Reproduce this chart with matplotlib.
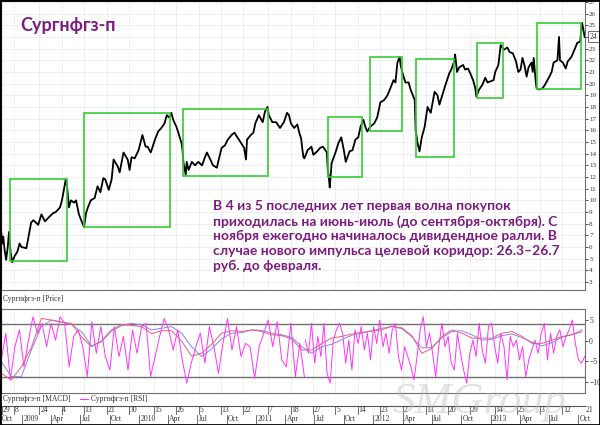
import pandas as pd
import matplotlib.pyplot as plt
import matplotlib.dates as mdates
import matplotlib.transforms as mtransforms
from matplotlib.patches import Rectangle
from matplotlib.lines import Line2D

# цена закрытия (примерно)
price_dates = [
    '2008-10-28', '2008-10-31', '2008-11-03', '2008-11-07', '2008-11-12', '2008-11-17', '2008-11-21',
    '2008-11-26', '2008-12-01', '2008-12-08', '2008-12-17', '2008-12-24', '2008-12-30', '2009-01-14',
    '2009-01-19', '2009-01-29', '2009-02-05', '2009-02-20', '2009-03-02', '2009-03-13', '2009-03-27',
    '2009-04-07', '2009-04-16', '2009-04-29', '2009-05-05', '2009-05-11', '2009-05-17', '2009-05-21',
    '2009-05-27', '2009-06-02', '2009-06-12', '2009-06-18', '2009-06-27', '2009-07-04', '2009-07-13',
    '2009-07-19', '2009-07-25', '2009-08-03', '2009-08-15', '2009-08-24', '2009-09-02', '2009-09-11',
    '2009-09-17', '2009-09-28', '2009-10-07', '2009-10-13', '2009-10-26', '2009-11-01', '2009-11-13',
    '2009-11-26', '2009-12-02', '2009-12-08', '2009-12-18', '2009-12-30', '2010-01-11', '2010-01-21',
    '2010-01-27', '2010-02-06', '2010-02-19', '2010-03-01', '2010-03-11', '2010-03-21', '2010-03-28',
    '2010-04-04', '2010-04-11', '2010-04-17', '2010-04-27', '2010-05-03', '2010-05-13', '2010-05-16',
    '2010-05-19', '2010-05-26', '2010-05-29', '2010-06-04', '2010-06-14', '2010-06-24', '2010-07-04',
    '2010-07-16', '2010-07-25', '2010-07-31', '2010-08-09', '2010-08-19', '2010-08-31', '2010-09-06',
    '2010-09-15', '2010-09-25', '2010-10-04', '2010-10-16', '2010-10-25', '2010-11-03', '2010-11-15',
    '2010-11-24', '2010-11-30', '2010-12-03', '2010-12-15', '2010-12-23', '2010-12-29', '2011-01-09',
    '2011-01-21', '2011-01-28', '2011-02-05', '2011-02-09', '2011-02-20', '2011-03-04', '2011-03-16',
    '2011-03-28', '2011-04-07', '2011-04-13', '2011-04-19', '2011-04-29', '2011-05-09', '2011-05-15',
    '2011-05-21', '2011-05-24', '2011-05-28', '2011-05-31', '2011-06-10', '2011-06-22', '2011-06-28',
    '2011-07-10', '2011-07-19', '2011-07-28', '2011-08-09', '2011-08-12', '2011-08-15', '2011-08-18',
    '2011-08-24', '2011-09-05', '2011-09-14', '2011-09-23', '2011-10-01', '2011-10-07', '2011-10-19',
    '2011-10-28', '2011-11-06', '2011-11-15', '2011-11-22', '2011-12-01', '2011-12-07', '2011-12-13',
    '2011-12-22', '2012-01-04', '2012-01-13', '2012-01-23', '2012-02-04', '2012-02-14', '2012-02-23',
    '2012-03-04', '2012-03-10', '2012-03-16', '2012-03-23', '2012-03-26', '2012-04-01', '2012-04-10',
    '2012-04-20', '2012-04-26', '2012-05-09', '2012-05-12', '2012-05-18', '2012-05-24', '2012-05-31',
    '2012-06-09', '2012-06-18', '2012-06-28', '2012-07-10', '2012-07-19', '2012-07-25', '2012-08-03',
    '2012-08-13', '2012-08-25', '2012-08-31', '2012-09-09', '2012-09-12', '2012-09-18', '2012-09-25',
    '2012-10-07', '2012-10-13', '2012-10-22', '2012-10-29', '2012-11-07', '2012-11-14', '2012-11-17',
    '2012-11-26', '2012-12-06', '2012-12-15', '2012-12-22', '2013-01-10', '2013-01-15', '2013-01-25',
    '2013-02-01', '2013-02-11', '2013-02-22', '2013-03-01', '2013-03-11', '2013-03-21', '2013-03-28',
    '2013-04-04', '2013-04-10', '2013-04-16', '2013-04-23', '2013-04-29', '2013-05-08', '2013-05-12',
    '2013-05-15', '2013-05-21', '2013-05-24', '2013-05-31', '2013-06-12', '2013-06-19', '2013-07-01',
    '2013-07-10', '2013-07-16', '2013-07-28', '2013-08-02', '2013-08-05', '2013-08-14', '2013-08-23',
    '2013-08-29', '2013-09-10', '2013-09-19', '2013-09-28', '2013-10-07', '2013-10-11', '2013-10-13',
    '2013-10-17', '2013-10-21',
]
price_values = [
    7.2, 6.3, 6.9, 5.8, 4.9, 6.0, 7.3,
    5.5, 4.7, 5.2, 5.6, 6.3, 6.0, 5.9,
    6.6, 8.1, 8.3, 7.9, 8.8, 8.2, 8.6,
    8.9, 9.0, 9.4, 10.0, 10.9, 11.8, 11.2,
    9.4, 10.0, 9.8, 10.0, 8.8, 8.3, 7.7,
    8.9, 9.4, 10.0, 10.2, 11.2, 10.7, 11.9,
    11.8, 10.9, 11.8, 13.5, 12.9, 12.4, 14.1,
    13.5, 12.6, 13.7, 13.6, 14.3, 15.6, 14.6,
    14.6, 14.1, 15.2, 15.9, 16.2, 16.6, 17.3,
    17.1, 17.5, 16.9, 16.3, 15.8, 14.9, 14.3,
    13.2, 12.2, 13.3, 12.6, 13.3, 13.0, 13.3,
    13.0, 13.7, 14.1, 13.6, 13.0, 12.8, 13.5,
    14.5, 14.7, 15.2, 15.6, 15.8, 15.4, 14.9,
    14.5, 13.5, 15.2, 15.6, 15.8, 16.6, 17.3,
    16.7, 17.6, 18.0, 17.3, 16.7, 16.7, 16.2,
    16.7, 17.5, 17.3, 16.6, 16.2, 16.5, 15.8,
    15.3, 14.5, 13.7, 13.6, 14.3, 14.6, 13.9,
    14.2, 14.5, 14.6, 14.1, 12.6, 12.0, 11.1,
    13.2, 14.1, 14.9, 15.4, 14.3, 13.3, 14.2,
    14.3, 15.2, 15.4, 16.3, 16.9, 16.3, 15.9,
    16.3, 16.6, 17.1, 18.4, 18.6, 19.0, 19.6,
    20.3, 20.1, 21.8, 22.3, 21.6, 20.9, 20.1,
    20.1, 19.5, 18.6, 16.0, 14.9, 14.2, 15.4,
    16.3, 18.0, 17.5, 19.3, 19.0, 18.2, 19.0,
    19.9, 20.9, 21.2, 21.9, 22.5, 21.0, 21.4,
    21.6, 21.2, 21.3, 20.9, 20.3, 19.6, 18.9,
    19.5, 19.9, 20.5, 20.1, 20.3, 21.0, 21.6,
    23.3, 22.9, 23.1, 22.7, 22.6, 21.9, 21.0,
    21.2, 22.2, 21.6, 20.6, 21.4, 21.8, 21.0,
    22.2, 20.3, 19.6, 19.5, 19.6, 19.9, 20.5,
    21.0, 21.8, 22.0, 24.0, 22.0, 21.8, 21.3,
    21.9, 22.3, 22.9, 23.5, 23.6, 24.8, 25.2,
    24.6, 24.0,
]

# зелёные рамки
box_start = ['2008-11-23', '2009-07-13', '2010-05-19', '2011-08-12', '2011-12-22', '2012-05-12', '2012-11-20', '2013-05-24']
box_end = ['2009-05-21', '2010-04-07', '2011-02-05', '2011-11-28', '2012-03-29', '2012-09-09', '2013-02-07', '2013-10-09']
box_low = [4.8, 7.7, 12.1, 12.0, 15.9, 13.7, 18.8, 19.5]
box_high = [11.8, 17.5, 17.8, 17.1, 22.3, 22.1, 23.5, 25.2]

# нижняя панель
rsi_values_1 = [
    -4.6, 1.9, -9.5, -1.4, 2.7, -6.3, 0.2, 5.9, 1.9, 4.3,
    -1.4, 4.3, 0.2, 5.9, 4.3, -6.3, 1.1, 2.7, -1.4, -8.7,
    4.7, -3.0, 3.5, -3.8, -7.1, 3.5, -3.8, 1.1, -7.1, 2.7,
    -3.0, 3.5, 4.3, -8.7, -3.8, 1.1, 5.5, 2.7, -2.2, 2.7,
    -4.6, -10.3, -5.4, -1.4, 1.9, -5.4, 3.5, -1.4, -7.9, -0.6,
    5.5, -2.2, 3.5, -3.8, -0.6, -1.4, -9.1, -1.4, 1.9, 5.1,
    -1.4, 4.7, -4.6, -6.3, 4.3, -8.7, -0.6, -8.7,
]
rsi_values_2 = [
    0.2, -3.0, 4.3, -5.4, 1.1, -3.8, 4.3, -7.9, -10.3, 0.2,
    2.7, 4.3, 1.9, -5.4, 0.2, -7.1, 2.7, -0.6, 3.5, -2.2,
    1.9, -4.6, 3.5, -0.6, 5.1, -1.4, 1.9, -3.0, 2.7, 4.3,
    -3.8, -7.1, -1.4, -3.8, -6.3, -9.5, -3.8, 2.7, 5.9, -1.4,
    1.9, -3.0, -8.7, -1.4, 4.3, -1.4, 1.1, -5.4, -7.1, 1.9,
    -3.0, -7.1, -10.3, -3.0, 0.2, -3.8, 4.3, -2.2, -5.4, 3.5,
    4.3, -1.4, -5.4, 1.9, -1.4, -9.5, 1.1, -1.4, 0.2, -4.6,
    -1.4, -8.7, -4.6, -2.2, 0.2, -3.0, 1.9, 4.3, -4.6, 1.9,
    -3.0, 1.1, 2.7, -1.4, 1.1, 2.7, 5.1, -0.6, -4.6, -5.4,
    -3.8,
]
macd_values = [
    -5.0, -8.7, -8.7, -2.2, 3.5, 5.1, 4.6, 4.0, 2.3, -1.2,
    -0.2, 2.4, 3.7, 4.3, 3.9, 2.7, 3.1, 3.5, 1.9, -1.4,
    -3.8, -1.9, 0.5, 1.9, 2.0, 2.7, 2.6, 1.9, 1.5, 0.9,
    -1.4, -3.0, -1.4, -0.8, 0.3, 1.4, 1.9, 2.5, 3.1, 3.5,
    3.0, 1.0, -1.7, -1.6, 0.8, 2.3, 2.5, 1.5, 0.2, 0.4,
    1.3, 1.7, 0.8, -0.3, -1.2, -0.4, 0.9, 1.6, 2.2,
]
signal_values = [
    -7.9, -9.5, -6.3, -1.6, 5.5, 5.1, 4.6, 4.3, 1.0, -1.4,
    0.0, 2.7, 4.0, 3.8, 3.5, 1.8, 2.5, 2.5, 0.0, -3.7,
    -3.0, -0.8, 1.9, 2.5, 2.3, 2.7, 2.3, 1.5, 1.3, 0.5,
    -2.2, -2.2, -0.6, 0.7, 1.1, 1.7, 2.1, 2.4, 2.7, 3.6,
    3.2, 1.3, -3.0, -1.8, 1.1, 2.7, 1.9, 0.7, 0.7, 0.7,
    1.9, 2.3, 1.1, -0.6, -0.6, 0.2, 1.1, 1.5, 2.7,
]

# подписи оси дат
tick_dates = ['2008-10-29', '2008-12-08', '2009-02-24', '2009-05-04', '2009-07-13', '2009-09-21',
              '2009-11-30', '2010-02-15', '2010-04-26', '2010-07-05', '2010-09-13', '2010-11-22',
              '2011-02-07', '2011-04-18', '2011-06-27', '2011-09-05', '2011-11-14', '2012-01-23',
              '2012-04-02', '2012-06-13', '2012-08-20', '2012-10-29', '2013-01-14', '2013-03-25',
              '2013-06-03', '2013-08-12', '2013-10-21']
quarter_dates = ['2009-01-01', '2009-04-01', '2009-07-01', '2009-10-01', '2010-01-01', '2010-04-01',
                 '2010-07-01', '2010-10-01', '2011-01-01', '2011-04-01', '2011-07-01', '2011-10-01',
                 '2012-01-01', '2012-04-01', '2012-07-01', '2012-10-01', '2013-01-01', '2013-04-01',
                 '2013-07-01', '2013-10-01']
quarter_labels = ['2009', 'Apr', 'Jul', 'Oct', '2010', 'Apr', 'Jul', 'Oct', '2011', 'Apr', 'Jul', 'Oct',
                  '2012', 'Apr', 'Jul', 'Oct', '2013', 'Apr', 'Jul', 'Oct']

title = 'Сургнфгз-п'
note = ('В 4 из 5 последних лет первая волна покупок\n'
        'приходилась на июнь-июль (до сентября-октября). С\n'
        'ноября ежегодно начиналось дивидендное ралли. В\n'
        'случае нового импульса целевой коридор: 26.3–26.7\n'
        'руб. до февраля.')

purple = '#7b1c7e'
small = dict(fontsize=5.5, family=['Liberation Serif', 'DejaVu Serif'], color='#333333')

W, H = 600, 425


def fx(px):
    return px / W


def fy(py):
    return 1 - py / H


def d(lst):
    return mdates.date2num(pd.to_datetime(lst))


x_start = d(['2008-10-27'])[0]
x_end = d(['2013-10-22'])[0]

fig = plt.figure(figsize=(6, 4.25), dpi=100)
fig.patch.set_facecolor('white')

# ---- цена ----
ax = fig.add_axes([fx(1), fy(290), fx(585) - fx(1), fy(1) - fy(290)])
ax.plot(d(price_dates), price_values, color='black', lw=1.3, zorder=3)
for s, e, lo, hi in zip(box_start, box_end, box_low, box_high):
    x0, x1 = d([s, e])
    ax.add_patch(Rectangle((x0, lo), x1 - x0, hi - lo, fill=False, ec='#33cc33', lw=1.2, zorder=4))
ax.set_xlim(x_start, x_end)
ax.set_ylim(2.32, 27.08)
ax.set_xticks(d(tick_dates))
ax.set_xticklabels([])
ax.tick_params(axis='x', length=0)
ax.yaxis.tick_right()
ax.set_yticks(range(3, 28))
ax.tick_params(axis='y', length=2, width=0.6, pad=1, labelsize=5, colors='#333333')
for lab in ax.get_yticklabels():
    lab.set_family(['Liberation Serif', 'DejaVu Serif'])
ax.grid(True, color='#ededed', lw=0.6)
ax.set_axisbelow(True)
for sp in ax.spines.values():
    sp.set_color('#707070')
    sp.set_linewidth(0.8)
last_tr = mtransforms.blended_transform_factory(ax.transAxes, ax.transData)
ax.text(1.008, price_values[-1], '24', transform=last_tr, va='center', ha='left', fontsize=5.5,
        family=['Liberation Serif', 'DejaVu Serif'], color='#333333',
        bbox=dict(boxstyle='square,pad=0.2', fc='white', ec='#555555', lw=0.6), zorder=6)

fig.text(fx(20), fy(25), title, fontsize=13, fontweight='bold', color=purple,
         family=['Lato', 'DejaVu Sans'], va='center', ha='left')
fig.text(fx(213), fy(200), note, fontsize=10, fontweight='bold', color=purple,
         family=['Lato', 'DejaVu Sans'], va='top', ha='left', linespacing=1.27)

fig.text(fx(3), fy(299), 'Сургнфгз-п [Price]', va='center', ha='left', **small)

# ---- MACD / RSI ----
ax2 = fig.add_axes([fx(1), fy(393), fx(585) - fx(1), fy(309) - fy(393)])
r1 = pd.date_range('2008-10-28', '2011-05-31', periods=len(rsi_values_1))
r2 = pd.date_range('2011-06-03', '2013-10-21', periods=len(rsi_values_2))
ax2.plot(mdates.date2num(r1), rsi_values_1, color='#ff33ff', lw=0.7, zorder=3)
ax2.plot(mdates.date2num(r2), rsi_values_2, color='#ff33ff', lw=0.7, zorder=3)
m_dates = mdates.date2num(pd.date_range('2008-10-28', '2013-10-13', periods=len(macd_values)))
ax2.plot(m_dates, macd_values, color='#9080f0', lw=0.7, zorder=4)
ax2.plot(m_dates, signal_values, color='#f05a80', lw=0.7, zorder=4)
ax2.axhline(4.1, color='#707070', lw=1.0, zorder=2)
ax2.axhline(-8.8, color='#707070', lw=1.0, zorder=2)
ax2.set_xlim(x_start, x_end)
ax2.set_ylim(-12.7, 7.8)
ax2.set_xticks(d(tick_dates))
ax2.set_xticklabels([])
ax2.tick_params(axis='x', length=0)
ax2.yaxis.tick_right()
ax2.set_yticks([5, 0, -5, -10])
ax2.tick_params(axis='y', length=2, width=0.6, pad=1, labelsize=5.5, colors='#333333')
for lab in ax2.get_yticklabels():
    lab.set_family(['Liberation Serif', 'DejaVu Serif'])
ax2.grid(True, axis='x', color='#ededed', lw=0.6)
ax2.set_axisbelow(True)
for sp in ax2.spines.values():
    sp.set_color('#707070')
    sp.set_linewidth(0.8)

fig.text(fx(3), fy(399), 'Сургнфгз-п [MACD]', va='center', ha='left', **small)
fig.add_artist(Line2D([fx(80), fx(88)], [fy(398.5), fy(398.5)], color='#ff33ff', lw=0.8))
fig.text(fx(91), fy(399), 'Сургнфгз-п [RSI]', va='center', ha='left', **small)

# ---- ось дат ----
ax3 = fig.add_axes([fx(1), fy(424), fx(585) - fx(1), fy(406) - fy(424)])
ax3.set_xlim(x_start, x_end)
ax3.set_ylim(0, 1)
ax3.set_xticks([])
ax3.set_yticks([])
for name, sp in ax3.spines.items():
    sp.set_visible(name == 'top')
    sp.set_color('#555555')
    sp.set_linewidth(0.8)
for t in tick_dates:
    xt = d([t])[0]
    ax3.plot([xt, xt], [1, 0.55], color='#555555', lw=0.6)
    ax3.text(xt + 2, 0.76, str(pd.Timestamp(t).day), va='center', ha='left', **small)
ax3.text(x_start + 2, 0.26, 'Oct', va='center', ha='left', **small)
for q, lab in zip(quarter_dates, quarter_labels):
    xq = d([q])[0]
    ax3.plot([xq, xq], [0.5, 0], color='#555555', lw=0.6)
    ax3.text(xq + 4, 0.26, lab, va='center', ha='left', **small)

# водяной знак
fig.text(fx(392), fy(413), 'SMGroup', fontsize=32, style='italic', family=['Liberation Serif', 'DejaVu Serif'],
         color='#b8b8b8', alpha=0.4, va='baseline', ha='left', zorder=10)

fig.add_artist(Rectangle((0, 0), 1, 1, transform=fig.transFigure, fill=False, ec='black', lw=2))

fig.savefig('out.png', dpi=100)
